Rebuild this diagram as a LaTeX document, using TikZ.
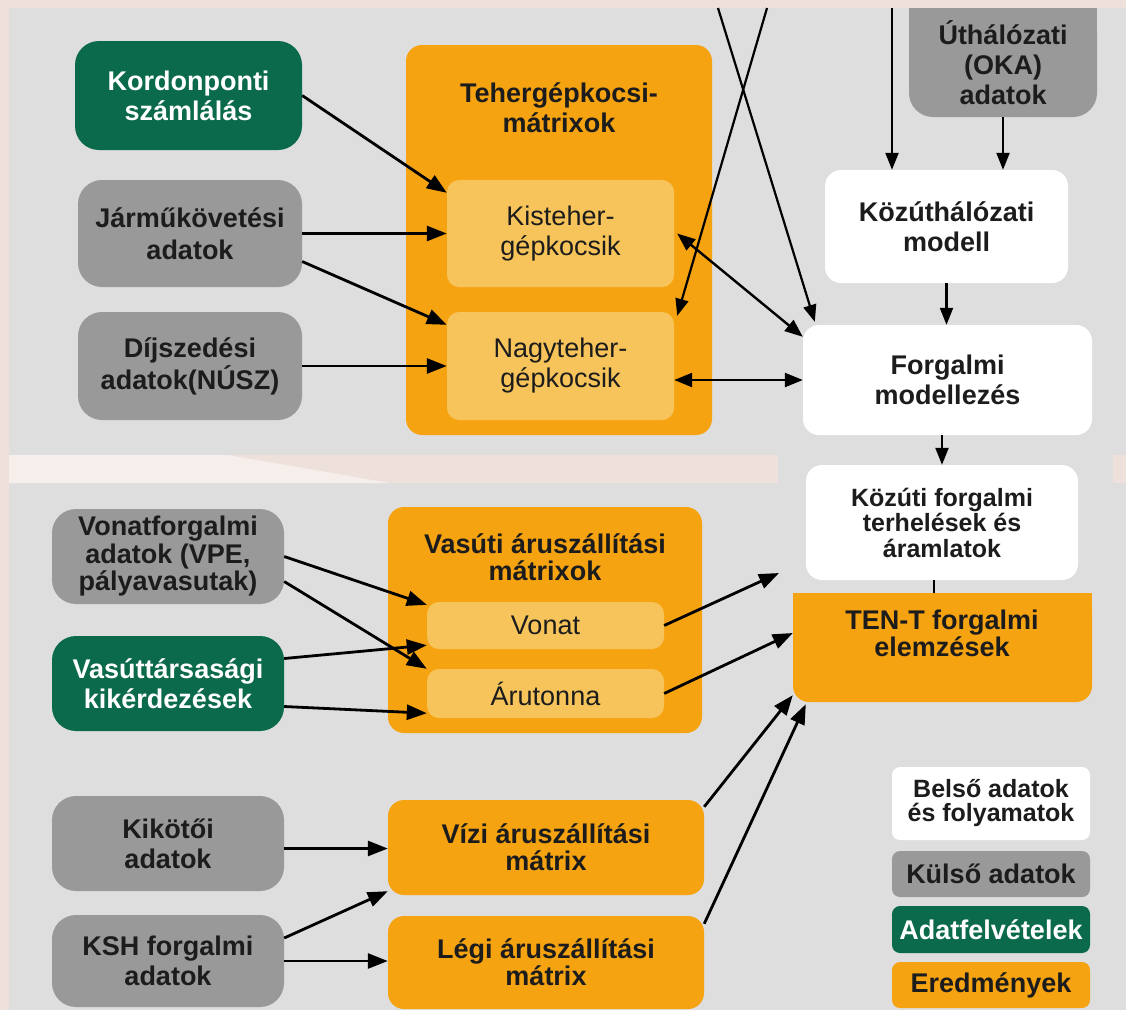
\documentclass[tikz,border=0pt]{standalone}
\usepackage{fontspec}
\setmainfont{Liberation Sans}
\usetikzlibrary{arrows.meta,calc}
\definecolor{bgpink}{RGB}{238,224,219}
\definecolor{bglight}{RGB}{246,238,235}
\definecolor{panel}{RGB}{222,222,222}
\definecolor{gnode}{RGB}{153,153,153}
\definecolor{grn}{RGB}{12,106,76}
\definecolor{org}{RGB}{246,163,18}
\definecolor{lorg}{RGB}{246,196,90}
\definecolor{ink}{RGB}{28,28,28}
\tikzset{
  basebox/.style={inner sep=0pt, align=center, text=ink, font=\fontsize{27pt}{30pt}\selectfont\bfseries},
  extbox/.style={basebox, fill=gnode, rounded corners=24pt},
  survbox/.style={basebox, fill=grn, text=white, rounded corners=24pt},
  resbox/.style={basebox, fill=org, rounded corners=16pt},
  subbox/.style={basebox, fill=lorg, rounded corners=12pt, font=\fontsize{27pt}{30pt}\selectfont},
  intbox/.style={basebox, fill=white, rounded corners=16pt},
  legbox/.style={basebox, rounded corners=8pt, minimum width=198pt},
  ttlbox/.style={basebox},
  arr/.style={draw=black, line width=2.8pt, -{Triangle[length=20pt,width=15pt]}},
  tarr/.style={draw=black, line width=2.2pt, -{Triangle[length=17pt,width=13pt]}},
  darr/.style={draw=black, line width=2.4pt, {Triangle[length=18pt,width=14pt]}-{Triangle[length=18pt,width=14pt]}},
  plainline/.style={draw=black, line width=2.2pt},
}
\begin{document}
\begin{tikzpicture}[x=1pt,y=-1pt]
\useasboundingbox (0,0) rectangle (1126,1010);
% background collage
\fill[bgpink] (0,0) rectangle (1126,1010);
\fill[panel] (9,8) rectangle (1126,455);
\fill[panel] (778,455) rectangle (1113,483);
\fill[panel] (9,483) rectangle (1126,1010);
\fill[bglight] (9,455) -- (228,455) -- (390,483) -- (9,483) -- cycle;

% ---------- top section ----------
\node[survbox, minimum width=227pt, minimum height=109pt] (kord) at (188.5,95.5) {Kordonponti\\számlálás};
\node[extbox, minimum width=224pt, minimum height=107pt, font=\fontsize{27pt}{32pt}\selectfont\bfseries] (jarmu) at (190,233.5) {Járműkövetési\\adatok};
\node[extbox, minimum width=224pt, minimum height=108pt, font=\fontsize{27pt}{32pt}\selectfont\bfseries] (dij) at (190,366) {Díjszedési\\adatok(NÚSZ)};

\node[resbox, minimum width=306pt, minimum height=390pt] (tmat) at (559,240) {};
\node[ttlbox] (tmatt) at (559,108) {Tehergépkocsi-\\mátrixok};
\node[subbox, minimum width=227pt, minimum height=107pt] (kis) at (560.5,233.5) {Kisteher-\\gépkocsik};
\node[subbox, minimum width=227pt, minimum height=108pt] (nagy) at (560.5,366) {Nagyteher-\\gépkocsik};

\fill[gnode] (909,8) rectangle (1097,40);
\node[extbox, minimum width=188pt, minimum height=109pt, font=\fontsize{27pt}{30pt}\selectfont\bfseries] (ut) at (1003,62.5) {Úthálózati\\(OKA)\\adatok};
\node[intbox, minimum width=243pt, minimum height=113pt] (kozut) at (946.5,226.5) {Közúthálózati\\modell};
\node[intbox, minimum width=289pt, minimum height=110pt] (forg) at (947.5,380) {Forgalmi\\modellezés};
\node[intbox, minimum width=272pt, minimum height=115pt, font=\fontsize{25pt}{25.5pt}\selectfont\bfseries] (kozforg) at (942,522.5) {Közúti forgalmi\\terhelések és\\áramlatok};

\fill[org] (793,593) rectangle (1092,620);
\node[resbox, minimum width=299pt, minimum height=109pt] (tent) at (942.5,647.5) {};
\node[ttlbox, font=\fontsize{27pt}{27pt}\selectfont\bfseries] (tentt) at (942,633.5) {TEN-T forgalmi\\elemzések};

% ---------- bottom section ----------
\node[extbox, minimum width=232pt, minimum height=95pt, font=\fontsize{27pt}{27.5pt}\selectfont\bfseries] (vonf) at (168,556.5) {Vonatforgalmi\\adatok (VPE,\\pályavasutak)};
\node[survbox, minimum width=232pt, minimum height=95pt] (vast) at (168,683.5) {Vasúttársasági\\kikérdezések};
\node[extbox, minimum width=232pt, minimum height=95pt] (kik) at (168,843.5) {Kikötői\\adatok};
\node[extbox, minimum width=232pt, minimum height=92pt] (ksh) at (168,961) {KSH forgalmi\\adatok};

\node[resbox, minimum width=314pt, minimum height=226pt] (vmat) at (545,620) {};
\node[ttlbox, font=\fontsize{27pt}{27pt}\selectfont\bfseries] (vmatt) at (545,557.5) {Vasúti áruszállítási\\mátrixok};
\node[subbox, minimum width=237pt, minimum height=47pt] (vonat) at (545.5,625.5) {Vonat};
\node[subbox, minimum width=237pt, minimum height=49pt] (aru) at (545.5,693.5) {Árutonna};
\node[resbox, minimum width=316pt, minimum height=95pt, font=\fontsize{27pt}{27pt}\selectfont\bfseries] (vizi) at (546,847.5) {Vízi áruszállítási\\mátrix};
\node[resbox, minimum width=316pt, minimum height=93pt, font=\fontsize{27pt}{27pt}\selectfont\bfseries] (legi) at (546,962.5) {Légi áruszállítási\\mátrix};

% ---------- legend ----------
\node[legbox, fill=white, minimum height=73pt, font=\fontsize{25pt}{24pt}\selectfont\bfseries] (l1) at (991,803.5) {Belső adatok\\és folyamatok};
\node[legbox, fill=gnode, minimum height=46pt] (l2) at (991,874) {Külső adatok};
\node[legbox, fill=grn, text=white, minimum height=47pt] (l3) at (991,929.5) {Adatfelvételek};
\node[legbox, fill=org, minimum height=46pt] (l4) at (991,985) {Eredmények};

% ---------- connectors ----------
\coordinate (t1) at (718,8);
\coordinate (t2) at (767,8);
\coordinate (t3) at (892,8);
\coordinate (f1) at (779,573);

\draw[arr] (kord.east) -- ([yshift=-13pt]kis.north west);
\draw[arr] (jarmu.east) -- (kis.west);
\draw[arr] ([yshift=-28pt]jarmu.east) -- ([yshift=-13pt]nagy.north west);
\draw[arr] (dij.east) -- (nagy.west);
\draw[tarr] (t1) -- ([xshift=12pt,yshift=3pt]forg.north west);
\draw[tarr] (t2) -- ([xshift=3pt,yshift=-4pt]nagy.north east);
\draw[tarr] (t3) -- (t3 |- kozut.north);
\draw[tarr] (ut.south) -- (ut.south |- kozut.north);
\draw[tarr] (kozut.south) -- (kozut.south |- forg.north);
\draw[darr] ([xshift=3pt]kis.east) -- ([yshift=-12pt]forg.north west);
\draw[darr] (nagy.east |- forg.west) -- (forg.west);
\draw[tarr] (kozforg.north |- forg.south) -- (kozforg.north);
\draw[plainline] ([xshift=-8pt]kozforg.south) -- ([xshift=-8pt]kozforg.south |- tent.north);

\draw[arr] (vonf.east) -- ([yshift=-3pt]vonat.north west);
\draw[arr] ([yshift=-25pt]vonf.east) -- (aru.north west);
\draw[arr] ([yshift=25pt]vast.east) -- ([yshift=4pt]vonat.south west);
\draw[arr] ([yshift=-23pt]vast.east) -- ([yshift=5pt]aru.south west);
\draw[arr] (vonat.east) -- (f1);
\draw[arr] (aru.east) -- ([yshift=14.5pt]tent.west);
\draw[arr] ([yshift=-7pt]vizi.north east) -- ([yshift=7pt]tent.south west);
\draw[arr] ([yshift=-8pt]legi.north east) -- ([xshift=13pt,yshift=-2pt]tent.south west);
\draw[arr] ([yshift=-5pt]kik.east) -- ([yshift=-5pt]kik.east -| vizi.west);
\draw[arr] ([yshift=23pt]ksh.east) -- ([yshift=4pt]vizi.south west);
\draw[arr] (ksh.east) -- (ksh.east -| legi.west);
\end{tikzpicture}
\end{document}
